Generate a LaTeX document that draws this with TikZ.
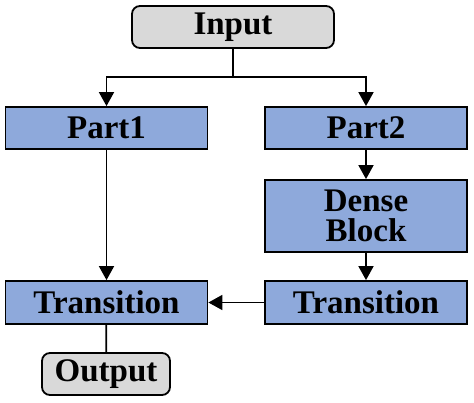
\documentclass[tikz,border=0pt]{standalone}
\usepackage{fontspec}
\setmainfont{Liberation Serif}
\usetikzlibrary{arrows.meta}
\definecolor{boxblue}{HTML}{8EA9DB}
\definecolor{boxgray}{HTML}{D9D9D9}
\begin{document}
\begin{tikzpicture}[x=1pt,y=-1pt,
    font=\fontsize{33}{33}\selectfont\bfseries,
    >={Triangle[length=14pt,width=15pt]},
    line width=1.8pt,
    block/.style={draw,fill=boxblue,minimum width=202pt,minimum height=42pt,inner sep=0pt,align=center},
    term/.style={draw,fill=boxgray,rounded corners=8pt,minimum height=42pt,inner sep=0pt}]
            \useasboundingbox (0,0) rectangle (474,402);
            \node[term,minimum width=202pt] (in) at (233,27) {Input};
            \coordinate (split) at (233,77);
            \node[block] (p1) at (106.5,128) {Part1};
            \node[block] (p2) at (366,128) {Part2};
            \node[block,minimum height=72pt] (db) at (366,216) {Dense\\[-3pt]Block};
            \node[block,minimum height=43pt] (tl) at (106.5,302.5) {Transition};
            \node[block,minimum height=43pt] (tr) at (366,302.5) {Transition};
            \node[term,minimum width=128pt] (out) at (106,374) {Output};
            \draw (in) -- (split);
            \draw[->] (split) -| (p1);
            \draw[->] (split) -| (p2);
            \draw[->] (p2) -- (db);
            \draw[->] (db) -- (tr);
            \draw[->] (p1) -- (tl);
            \draw[->] (tr) -- (tl);
            \draw (tl) -- (out);
        \end{tikzpicture}
\end{document}
